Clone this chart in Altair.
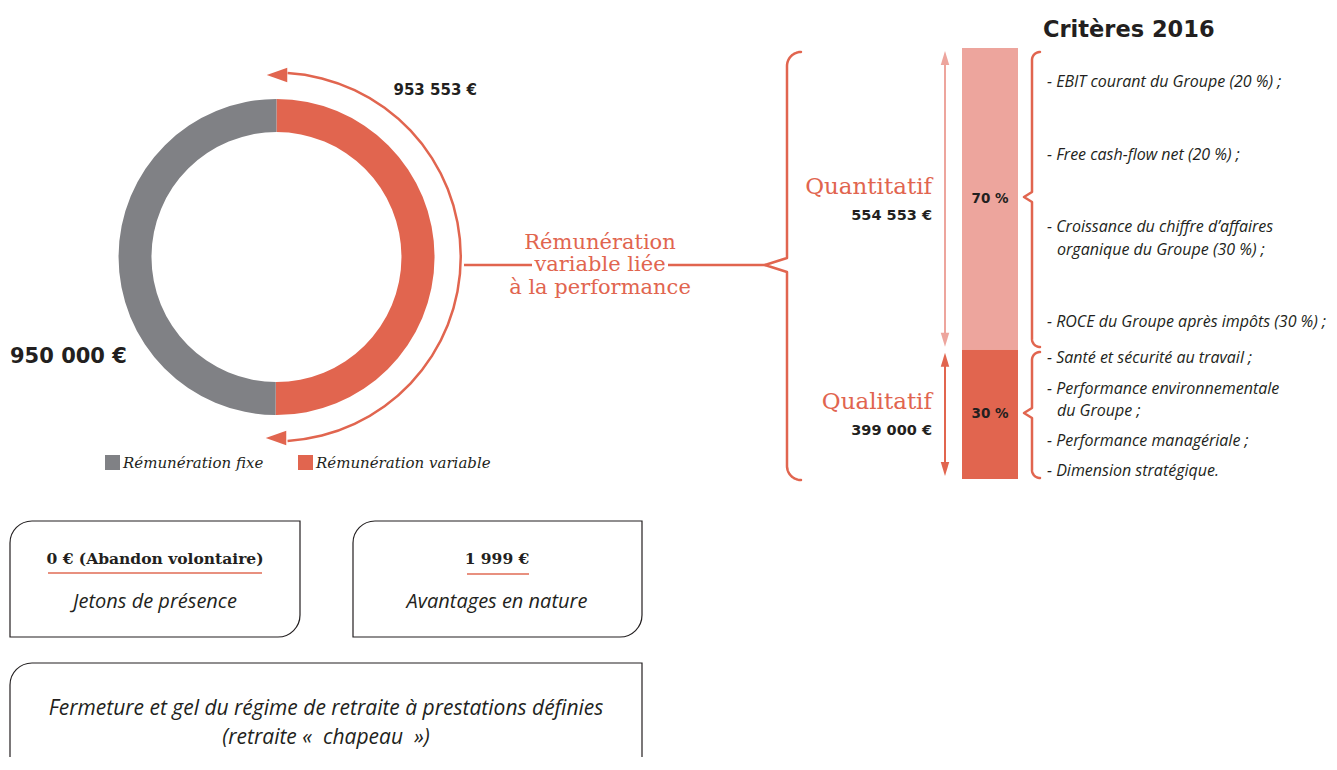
import altair as alt
import numpy as np
import pandas as pd

# ---------------- data ----------------
pay_parts = ["Rémunération variable", "Rémunération fixe"]
pay_values = [953553, 950000]
pay_value_labels = ["953 553 €", "950 000 €"]

perf_parts = ["Quantitatif", "Qualitatif"]
perf_shares = [70, 30]
perf_share_labels = ["70 %", "30 %"]
perf_amount_labels = ["554 553 €", "399 000 €"]

quant_criteria = [
    ["- EBIT courant du Groupe (20 %) ;"],
    ["- Free cash-flow net (20 %) ;"],
    ["- Croissance du chiffre d’affaires", "organique du Groupe (30 %) ;"],
    ["- ROCE du Groupe après impôts (30 %) ;"],
]
qual_criteria = [
    ["- Santé et sécurité au travail ;"],
    ["- Performance environnementale", "du Groupe ;"],
    ["- Performance managériale ;"],
    ["- Dimension stratégique."],
]
criteria_title = ["Critères 2016"]
link_lines = ["Rémunération", "variable liée", "à la performance"]
box_amounts = ["0 € (Abandon volontaire)", "1 999 €"]
box_labels = ["Jetons de présence", "Avantages en nature"]
pension_lines = ["Fermeture et gel du régime de retraite à prestations définies",
                 "(retraite «\u00a0 chapeau\u00a0 »)"]

# ---------------- layout / style ----------------
W, H = 1321, 749
OX = OY = 8
RED = "#E1654F"
PINK = "#EDA59D"
GREY = "#808185"
INK = "#231F20"
ULINE = "#E8907F"
NUM = "DejaVu Sans"
SLAB = "DejaVu Serif"
HUM = "Open Sans"

XS = alt.Scale(domain=[OX, OX + W], range=[0, W], nice=False, zero=False)
YS = alt.Scale(domain=[OY, OY + H], range=[0, H], nice=False, zero=False)
BAR_TOP, BAR_BOT = 48, 479
BS = alt.Scale(domain=[0, 100], range=[BAR_TOP - OY, BAR_BOT - OY], nice=False, zero=False)


def xq(f):
    return alt.X(f"{f}:Q", scale=XS, axis=None)


def yq(f):
    return alt.Y(f"{f}:Q", scale=YS, axis=None)


def texts(rows, font, size, color, weight="normal", style="normal", align="center"):
    return alt.Chart(pd.DataFrame(rows)).mark_text(
        font=font, fontSize=size, color=color, fontWeight=weight, fontStyle=style,
        align=align, baseline="middle"
    ).encode(x=xq("x"), y=yq("y"), text="label:N")


layers = []

# ---- donut ----
CX, CY = 276.5, 257
donut_df = pd.DataFrame({"part": pay_parts, "value": pay_values, "idx": [0, 1], "cx": CX, "cy": CY})
pay_color = alt.Scale(domain=pay_parts, range=[RED, GREY])
layers.append(alt.Chart(donut_df).mark_arc(innerRadius=125, outerRadius=158).encode(
    x=xq("cx"), y=yq("cy"),
    theta=alt.Theta("value:Q", stack=True),
    order=alt.Order("idx:Q"),
    color=alt.Color("part:N", scale=pay_color, legend=None),
))

# ---- arc arrow around the donut ----
ring_df = pd.DataFrame({"cx": [CX], "cy": [CY]})
layers.append(alt.Chart(ring_df).mark_arc(
    innerRadius=183, outerRadius=185.5, theta=0.06, theta2=float(np.pi - 0.06), color=RED
).encode(x=xq("cx"), y=yq("cy")))
head_df = pd.DataFrame({"x": [277, 276], "y": [75, 438]})
layers.append(alt.Chart(head_df).mark_point(
    shape="M-1,0L1,-0.7L1,0.7Z", size=420, filled=True, color=RED, opacity=1, strokeWidth=0
).encode(x=xq("x"), y=yq("y")))

# ---- donut labels ----
layers.append(texts([{"label": pay_value_labels[0], "x": 477, "y": 90}], NUM, 15, INK, "bold", align="right"))
layers.append(texts([{"label": pay_value_labels[1], "x": 10, "y": 357}], NUM, 21, INK, "bold", align="left"))

# ---- legend ----
leg_parts = list(reversed(pay_parts))
leg_df = pd.DataFrame({"part": leg_parts, "x0": [105, 298], "x1": [120, 313], "y0": 455, "y1": 470,
                       "tx": [123, 316], "ty": 463})
layers.append(alt.Chart(leg_df).mark_rect().encode(
    x=xq("x0"), x2="x1", y=yq("y0"), y2="y1",
    color=alt.Color("part:N", scale=pay_color, legend=None)))
layers.append(alt.Chart(leg_df).mark_text(
    font=SLAB, fontSize=15, fontStyle="italic", color=INK, align="left", baseline="middle"
).encode(x=xq("tx"), y=yq("ty"), text="part:N"))

# ---- connector line + text ----
conn_df = pd.DataFrame({"x0": [464, 668], "x1": [532, 766], "y": [265, 265]})
layers.append(alt.Chart(conn_df).mark_rule(color=RED, strokeWidth=2.5).encode(
    x=xq("x0"), x2="x1", y=yq("y")))
layers.append(texts([{"label": t, "x": 600, "y": y} for t, y in zip(link_lines, [243, 265, 288])],
                    SLAB, 21, RED))


# ---- braces ----
def brace(name, x_end, x_spine, x_tip, y_top, y_mid, y_bot, notch, n=14):
    r = x_end - x_spine
    pts = []
    for k in range(n + 1):
        t = np.pi / 2 + (np.pi / 2) * k / n
        pts.append((x_end + r * np.cos(t), y_top + r - r * np.sin(t)))
    pts += [(x_spine, y_mid - notch), (x_tip, y_mid), (x_spine, y_mid + notch)]
    for k in range(n + 1):
        t = np.pi + (np.pi / 2) * k / n
        pts.append((x_end + r * np.cos(t), y_bot - r - r * np.sin(t)))
    return [{"name": name, "k": i, "x": p[0], "y": p[1]} for i, p in enumerate(pts)]


brace_rows = (brace("big", 801, 787, 765, 52, 265, 480, 7)
              + brace("q1", 1040, 1032, 1024, 52, 197, 347, 5)
              + brace("q2", 1040, 1032, 1024, 352, 413, 478, 5))
layers.append(alt.Chart(pd.DataFrame(brace_rows)).mark_line(
    color=RED, strokeWidth=2.5, strokeCap="round", strokeJoin="round"
).encode(x=xq("x"), y=yq("y"), order="k:Q", detail="name:N"))

# ---- stacked 70/30 bar ----
bar_df = pd.DataFrame({"part": perf_parts, "share": perf_shares, "pct": perf_share_labels,
                       "amount": perf_amount_labels, "idx": [0, 1],
                       "bx0": 962, "bx1": 1018, "ax": 945, "lx": 932, "px": 990})
perf_color = alt.Scale(domain=perf_parts, range=[PINK, RED])
bar_base = alt.Chart(bar_df).transform_window(
    cum="sum(share)", sort=[alt.SortField("idx")], frame=[None, 0]
).transform_calculate(start="datum.cum - datum.share", mid="datum.cum - datum.share / 2")

layers.append(bar_base.mark_rect().encode(
    x=xq("bx0"), x2="bx1",
    y=alt.Y("start:Q", scale=BS, axis=None), y2="cum:Q",
    color=alt.Color("part:N", scale=perf_color, legend=None)))
layers.append(bar_base.mark_text(font=NUM, fontSize=13.5, fontWeight="bold", color=INK,
                                 baseline="middle").encode(
    x=xq("px"), y=alt.Y("mid:Q", scale=BS, axis=None), text="pct:N"))
layers.append(bar_base.mark_rule(strokeWidth=2, yOffset=12, y2Offset=-12).encode(
    x=xq("ax"), y=alt.Y("start:Q", scale=BS, axis=None), y2="cum:Q",
    color=alt.Color("part:N", scale=perf_color, legend=None)))
layers.append(bar_base.mark_point(shape="M0,-1L0.6,1L-0.6,1Z", size=200, filled=True, opacity=1,
                                  strokeWidth=0, yOffset=10).encode(
    x=xq("ax"), y=alt.Y("start:Q", scale=BS, axis=None),
    color=alt.Color("part:N", scale=perf_color, legend=None)))
layers.append(bar_base.mark_point(shape="M0,1L0.6,-1L-0.6,-1Z", size=200, filled=True, opacity=1,
                                  strokeWidth=0, yOffset=-10).encode(
    x=xq("ax"), y=alt.Y("cum:Q", scale=BS, axis=None),
    color=alt.Color("part:N", scale=perf_color, legend=None)))
layers.append(bar_base.mark_text(font=SLAB, fontSize=23, color=RED, align="right",
                                 baseline="middle", dy=-12).encode(
    x=xq("lx"), y=alt.Y("mid:Q", scale=BS, axis=None), text="part:N"))
layers.append(bar_base.mark_text(font=NUM, fontSize=14.5, fontWeight="bold", color=INK,
                                 align="right", baseline="middle", dy=17).encode(
    x=xq("lx"), y=alt.Y("mid:Q", scale=BS, axis=None), text="amount:N"))

# ---- criteria ----
layers.append(texts([{"label": criteria_title[0], "x": 1043, "y": 30}], NUM, 22.5, INK, "bold", align="left"))
QUANT_Y = [82, 155, 238.5, 322]
QUAL_Y = [358, 400, 441, 471]
crit_rows = []
for items, anchors in ((quant_criteria, QUANT_Y), (qual_criteria, QUAL_Y)):
    for item, yc in zip(items, anchors):
        n = len(item)
        for j, line in enumerate(item):
            crit_rows.append({"label": line, "x": 1047 if j == 0 else 1057,
                              "y": yc + (j - (n - 1) / 2) * 22.5})
layers.append(texts(crit_rows, HUM, 16, INK, style="italic", align="left"))

# ---- boxes ----
box_df = pd.DataFrame({"x0": [10, 353, 10], "x1": [300, 642, 642], "y0": [521, 521, 663],
                       "y1": [637, 637, 800]})
layers.append(alt.Chart(box_df).mark_rect(
    fill="white", stroke=INK, strokeWidth=1.2, cornerRadiusTopLeft=22, cornerRadiusBottomRight=22
).encode(x=xq("x0"), x2="x1", y=yq("y0"), y2="y1"))
ul_df = pd.DataFrame({"x0": [48, 467], "x1": [262, 529], "y": [573, 574]})
layers.append(alt.Chart(ul_df).mark_rule(color=ULINE, strokeWidth=2).encode(
    x=xq("x0"), x2="x1", y=yq("y")))
layers.append(texts([{"label": t, "x": x, "y": 559} for t, x in zip(box_amounts, [155, 497])],
                    SLAB, 15.5, INK, "bold"))
layers.append(texts([{"label": t, "x": x, "y": 602} for t, x in zip(box_labels, [155, 497])],
                    HUM, 20, INK, style="italic"))
layers.append(texts([{"label": t, "x": 326, "y": y} for t, y in zip(pension_lines, [709, 738])],
                    HUM, 21, INK, style="italic"))

chart = alt.layer(*layers).resolve_scale(y="independent", color="independent").properties(
    width=W, height=H, padding=0, autosize=alt.AutoSizeParams(type="none")
).configure_view(strokeWidth=0)

chart.save("out.html", embed_options={"renderer": "svg", "actions": False})
